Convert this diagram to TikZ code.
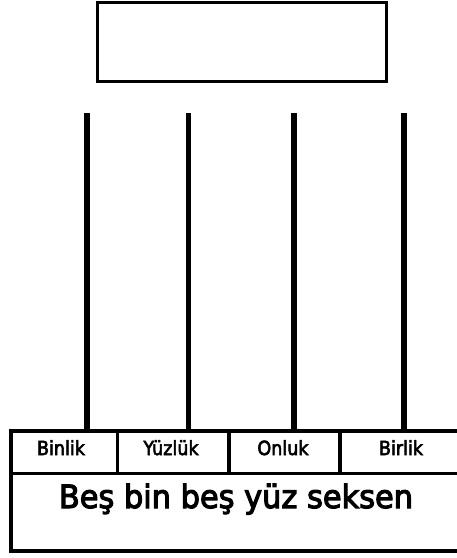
\documentclass[tikz,border=0pt]{standalone}
\usepackage{fontspec}
\newfontfamily\hdrfont[FakeStretch=0.9,FakeBold=3]{DejaVu Sans}
\newfontfamily\bigtextfont[FakeStretch=0.95,FakeBold=3.5]{DejaVu Sans}
\begin{document}
\begin{tikzpicture}[x=1pt,y=-1pt,
  frame/.style={draw=black,line width=3pt},
  post/.style={draw=black,line width=5.5pt},
  grid/.style={draw=black,line width=3.5pt},
  hdr/.style={anchor=base,inner sep=0pt,font=\hdrfont\fontsize{19.5}{22}\selectfont},
  bigtext/.style={anchor=base,inner sep=0pt,font=\bigtextfont\fontsize{32}{36}\selectfont}]
\useasboundingbox (0,0) rectangle (457,558);
% answer box
\node[frame,minimum width=289pt,minimum height=79pt,inner sep=0pt] (answer) at (242,42) {};
% table grid coordinates
\coordinate (tl) at (11,431);
\coordinate (tr) at (462,431);
\coordinate (ml) at (11,473.5);
\coordinate (mr) at (462,473.5);
\coordinate (bl) at (11,551);
\coordinate (br) at (462,551);
\coordinate (d1) at (117.3,431);
\coordinate (d2) at (229,431);
\coordinate (d3) at (340,431);
\begin{scope}
\clip (0,0) rectangle (457,558);
\draw[grid] (tr) -- (tl) -- (bl) -- (br);
\draw[grid] (ml) -- (mr);
\draw[grid] (d1) -- (d1 |- ml);
\draw[grid] (d2) -- (d2 |- ml);
\draw[grid] (d3) -- (d3 |- ml);
\end{scope}
% posts
\coordinate (p1) at (87,113);
\coordinate (p2) at (188.3,113);
\coordinate (p3) at (294,113);
\coordinate (p4) at (404,113);
\draw[post] (p1) -- (p1 |- tl);
\draw[post] (p2) -- (p2 |- tl);
\draw[post] (p3) -- (p3 |- tl);
\draw[post] (p4) -- (p4 |- tl);
% header labels
\node[hdr] (binlik) at (61,455) {Binlik};
\node[hdr] (yuzluk) at (171,455) {Yüzlük};
\node[hdr] (onluk) at (283,455) {Onluk};
\node[hdr] (birlik) at (401,455) {Birlik};
% number in words
\node[bigtext] (words) at (236,508) {Beş bin beş yüz seksen};
\end{tikzpicture}
\end{document}
